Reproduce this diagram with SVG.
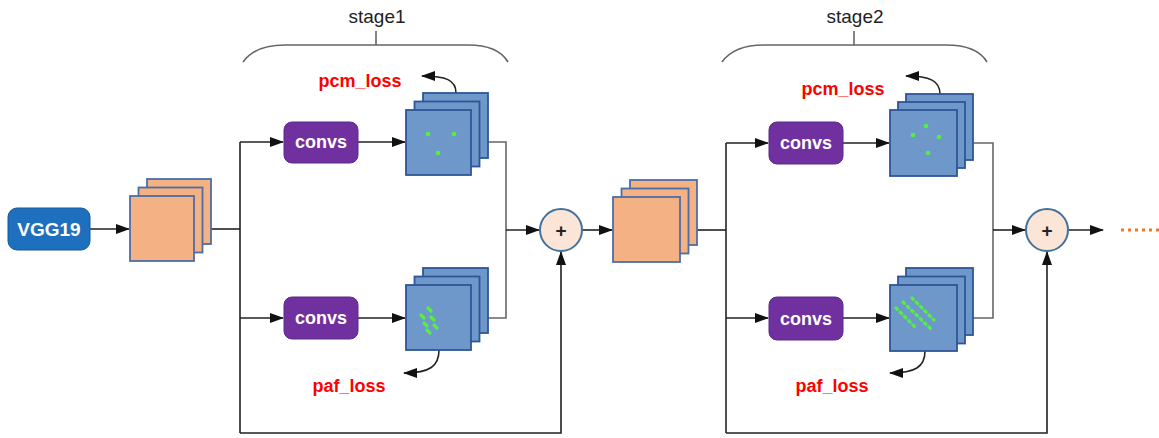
<svg xmlns="http://www.w3.org/2000/svg" width="1159" height="438" viewBox="0 0 1159 438">
<defs>
<marker id="arr" viewBox="0 0 14 10" refX="13" refY="5" markerWidth="14" markerHeight="10" markerUnits="userSpaceOnUse" orient="auto">
<path d="M0,0 L14,5 L0,10 Z" fill="#111"/>
</marker>
<style>
.ln{fill:none;stroke:#222;stroke-width:1.6}
.lg{fill:none;stroke:#666;stroke-width:1.6}
.or{fill:#f4b183;stroke:#4a6fa8;stroke-width:1.8}
.bl{fill:#6e98c9;stroke:#2f5597;stroke-width:1.8}
.cv{fill:#7030a0;stroke:#5b2a85;stroke-width:1}
.cvt{font-family:"Liberation Sans",Arial,sans-serif;font-weight:bold;font-size:18px;fill:#fff;text-anchor:middle}
.loss{font-family:"Liberation Sans",Arial,sans-serif;font-weight:bold;font-size:18px;fill:#ff0000;text-anchor:middle}
.stg{font-family:"Liberation Sans",Arial,sans-serif;font-size:19px;fill:#222;text-anchor:middle}
.gd{fill:#55ee44}
.gl{stroke:#55ee44;stroke-width:3.2;stroke-linecap:round}
.pl{fill:#fbe5d6;stroke:#41719c;stroke-width:2}
.pt{font-family:"Liberation Sans",Arial,sans-serif;font-weight:bold;font-size:19px;fill:#222;text-anchor:middle}
</style>
</defs>

<g id="connectors">
<line class="ln" x1="90" y1="229" x2="129" y2="229" marker-end="url(#arr)"/>
<line class="ln" x1="211" y1="229" x2="240" y2="229"/>
<line class="ln" x1="240" y1="142" x2="240" y2="433"/>
<line class="ln" x1="240" y1="142" x2="283" y2="142" marker-end="url(#arr)"/>
<line class="ln" x1="240" y1="318" x2="283" y2="318" marker-end="url(#arr)"/>
<line class="ln" x1="358" y1="142" x2="405" y2="142" marker-end="url(#arr)"/>
<line class="ln" x1="358" y1="318" x2="405" y2="318" marker-end="url(#arr)"/>
<polyline class="lg" points="488,142 506,142 506,318 488,318"/>
<line class="ln" x1="506" y1="230" x2="539" y2="230" marker-end="url(#arr)"/>
<polyline class="ln" points="240,433 561,433 561,252" marker-end="url(#arr)"/>
<line class="ln" x1="582" y1="230" x2="612" y2="230" marker-end="url(#arr)"/>
<line class="ln" x1="697" y1="230" x2="726" y2="230"/>
<line class="ln" x1="726" y1="143" x2="726" y2="433"/>
<line class="ln" x1="726" y1="143" x2="768" y2="143" marker-end="url(#arr)"/>
<line class="ln" x1="726" y1="318" x2="768" y2="318" marker-end="url(#arr)"/>
<line class="ln" x1="843" y1="143" x2="889" y2="143" marker-end="url(#arr)"/>
<line class="ln" x1="843" y1="318" x2="889" y2="318" marker-end="url(#arr)"/>
<polyline class="lg" points="973,143 993,143 993,318 973,318"/>
<line class="ln" x1="993" y1="230" x2="1025" y2="230" marker-end="url(#arr)"/>
<polyline class="ln" points="726,433 1047,433 1047,252" marker-end="url(#arr)"/>
<line class="ln" x1="1068" y1="230" x2="1103" y2="230" marker-end="url(#arr)"/>
<line x1="1121" y1="230" x2="1159" y2="230" stroke="#f07820" stroke-width="3" stroke-dasharray="3,4"/>
<path class="ln" d="M456,93 C456,80 446,76 422,76" marker-end="url(#arr)"/>
<path class="ln" d="M439,350 C439,366 430,373 404,373" marker-end="url(#arr)"/>
<path class="ln" d="M940,94 C940,81 930,76 906,76" marker-end="url(#arr)"/>
<path class="ln" d="M925,351 C925,367 915,373 890,373" marker-end="url(#arr)"/>
</g>

<g id="stage1-label">
<path class="lg" d="M243,62 Q255,45 285,45 H468 Q498,45 508,62"/>
<line class="lg" x1="376" y1="45" x2="376" y2="31"/>
<text class="stg" x="377" y="23">stage1</text>
</g>

<g id="stage2-label">
<path class="lg" d="M722,62 Q734,45 764,45 H946 Q977,45 987,62"/>
<line class="lg" x1="854" y1="45" x2="854" y2="31"/>
<text class="stg" x="855" y="23">stage2</text>
</g>

<g id="vgg19">
<rect x="8" y="208" width="82" height="42" rx="9" fill="#1f6fbf" stroke="#155a9c" stroke-width="1"/>
<text x="49" y="236" font-family="'Liberation Sans',Arial,sans-serif" font-weight="bold" font-size="19" fill="#fff" text-anchor="middle">VGG19</text>
</g>

<g id="features1">
<rect class="or" x="147" y="179" width="64" height="65"/>
<rect class="or" x="138.5" y="187.5" width="64" height="65"/>
<rect class="or" x="130" y="196" width="64" height="65"/>
</g>

<g id="convs1a">
<rect class="cv" x="284" y="122" width="74" height="41" rx="8"/>
<text class="cvt" x="321" y="148">convs</text>
</g>

<g id="pcm1">
<rect class="bl" x="423" y="93" width="65" height="65"/>
<rect class="bl" x="414.5" y="101.5" width="65" height="65"/>
<rect class="bl" x="406" y="110" width="65" height="65"/>
<circle class="gd" cx="428" cy="134" r="2.3"/>
<circle class="gd" cx="454" cy="134" r="2.3"/>
<circle class="gd" cx="438" cy="153" r="2.3"/>
<text class="loss" x="360" y="87">pcm_loss</text>
</g>

<g id="convs1b">
<rect class="cv" x="284" y="297" width="74" height="42" rx="8"/>
<text class="cvt" x="321" y="324">convs</text>
</g>

<g id="paf1">
<rect class="bl" x="423" y="268" width="65" height="65"/>
<rect class="bl" x="414.5" y="276.5" width="65" height="65"/>
<rect class="bl" x="406" y="285" width="65" height="65"/>
<line class="gl" x1="428" y1="308" x2="431" y2="311"/>
<line class="gl" x1="421" y1="315" x2="424" y2="318"/>
<line class="gl" x1="431" y1="317" x2="434" y2="320"/>
<line class="gl" x1="424" y1="323" x2="427" y2="326"/>
<line class="gl" x1="434" y1="325" x2="437" y2="328"/>
<line class="gl" x1="427" y1="330" x2="430" y2="333"/>
<text class="loss" x="349" y="392">paf_loss</text>
</g>

<g id="sum1">
<circle class="pl" cx="561" cy="230" r="21"/>
<text class="pt" x="561" y="237">+</text>
</g>

<g id="features2">
<rect class="or" x="630" y="180" width="67" height="65"/>
<rect class="or" x="621.5" y="188.5" width="67" height="65"/>
<rect class="or" x="613" y="197" width="67" height="65"/>
</g>

<g id="convs2a">
<rect class="cv" x="769" y="122" width="74" height="42" rx="8"/>
<text class="cvt" x="806" y="149">convs</text>
</g>

<g id="pcm2">
<rect class="bl" x="906" y="94" width="67" height="66"/>
<rect class="bl" x="898" y="102" width="67" height="66"/>
<rect class="bl" x="890" y="110" width="67" height="66"/>
<circle class="gd" cx="926" cy="126" r="2.3"/>
<circle class="gd" cx="913" cy="135" r="2.3"/>
<circle class="gd" cx="939" cy="137" r="2.3"/>
<circle class="gd" cx="928" cy="153" r="2.3"/>
<text class="loss" x="843" y="95">pcm_loss</text>
</g>

<g id="convs2b">
<rect class="cv" x="769" y="297" width="74" height="43" rx="8"/>
<text class="cvt" x="806" y="325">convs</text>
</g>

<g id="paf2">
<rect class="bl" x="906" y="268" width="67" height="67"/>
<rect class="bl" x="898" y="276.5" width="67" height="67"/>
<rect class="bl" x="890" y="285" width="67" height="66"/>
<line class="gl" x1="896" y1="308" x2="915" y2="327" stroke-dasharray="2,4"/>
<line class="gl" x1="903" y1="302" x2="932" y2="330" stroke-dasharray="2,4"/>
<line class="gl" x1="912" y1="298" x2="934" y2="320" stroke-dasharray="2,4"/>
<text class="loss" x="832" y="392">paf_loss</text>
</g>

<g id="sum2">
<circle class="pl" cx="1047" cy="230" r="21"/>
<text class="pt" x="1047" y="237">+</text>
</g>
</svg>
